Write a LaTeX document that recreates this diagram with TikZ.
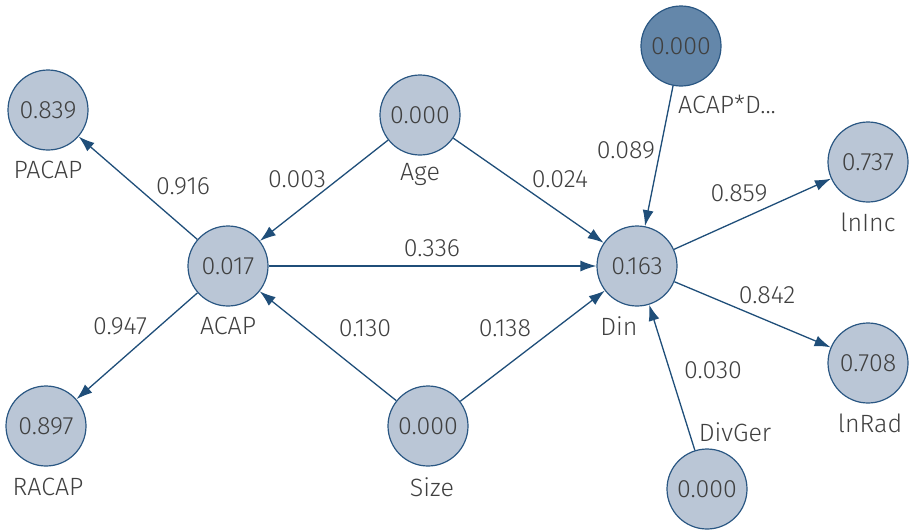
\documentclass[tikz,border=0pt]{standalone}
\usepackage{fontspec}
\setmainfont{Fira Sans}[UprightFont={* Light}]
\usetikzlibrary{arrows.meta}
\definecolor{nfill}{HTML}{BAC6D6}
\definecolor{nline}{HTML}{2A5783}
\definecolor{dfill}{HTML}{6487AA}
\definecolor{txt}{HTML}{404040}
\definecolor{edge}{HTML}{1F4E79}
\begin{document}
\begin{tikzpicture}[x=1pt,y=-1pt,
  lv/.style={circle,draw=nline,fill=nfill,line width=1.2pt,minimum size=80pt,inner sep=0pt,text=txt,font=\fontsize{25}{25}\selectfont},
  dk/.style={lv,fill=dfill},
  lab/.style={text=txt,font=\fontsize{25}{25}\selectfont,inner sep=0pt},
  wt/.style={text=txt,font=\fontsize{25}{25}\selectfont,inner sep=0pt},
  ar/.style={draw=edge,line width=1.3pt,-{Latex[length=16pt,width=11pt]}}]
\useasboundingbox (0,0) rectangle (909,531);
\node[lv] (pacap) at (48,110) {0.839};
\node[lv] (racap) at (46,426) {0.897};
\node[lv] (acap) at (228,266) {0.017};
\node[lv] (age) at (420,115) {0.000};
\node[lv] (size) at (428,426) {0.000};
\node[lv] (din) at (637,266) {0.163};
\node[dk] (mod) at (681,46) {0.000};
\node[lv] (inc) at (868,162) {0.737};
\node[lv] (rad) at (868,363) {0.708};
\node[lv] (div) at (707,489) {0.000};
\node[lab] at (48,170) {PACAP};
\node[lab] at (48,487) {RACAP};
\node[lab] at (228,326) {ACAP};
\node[lab] at (420,174) {Age};
\node[lab] at (432,487) {Size};
\node[lab] at (619,326) {Din};
\node[lab] at (727,104) {ACAP*D...};
\node[lab] at (868,222) {lnInc};
\node[lab] at (870,423) {lnRad};
\node[lab] at (735,432) {DivGer};
\draw[ar] (acap) -- (pacap);
\draw[ar] (acap) -- (racap);
\draw[ar] (age) -- (acap);
\draw[ar] (size) -- (acap);
\draw[ar] (acap) -- (din);
\draw[ar] (age) -- (din);
\draw[ar] (size) -- (din);
\draw[ar] (mod) -- (din);
\draw[ar] (din) -- (inc);
\draw[ar] (din) -- (rad);
\draw[ar] (div) -- (din);
\node[wt] at (183,186) {0.916};
\node[wt] at (120,326) {0.947};
\node[wt] at (297,179) {0.003};
\node[wt] at (365,328) {0.130};
\node[wt] at (432,248) {0.336};
\node[wt] at (560,179) {0.024};
\node[wt] at (505,328) {0.138};
\node[wt] at (626,150) {0.089};
\node[wt] at (739,193) {0.859};
\node[wt] at (767,295) {0.842};
\node[wt] at (713,370) {0.030};
\end{tikzpicture}
\end{document}
